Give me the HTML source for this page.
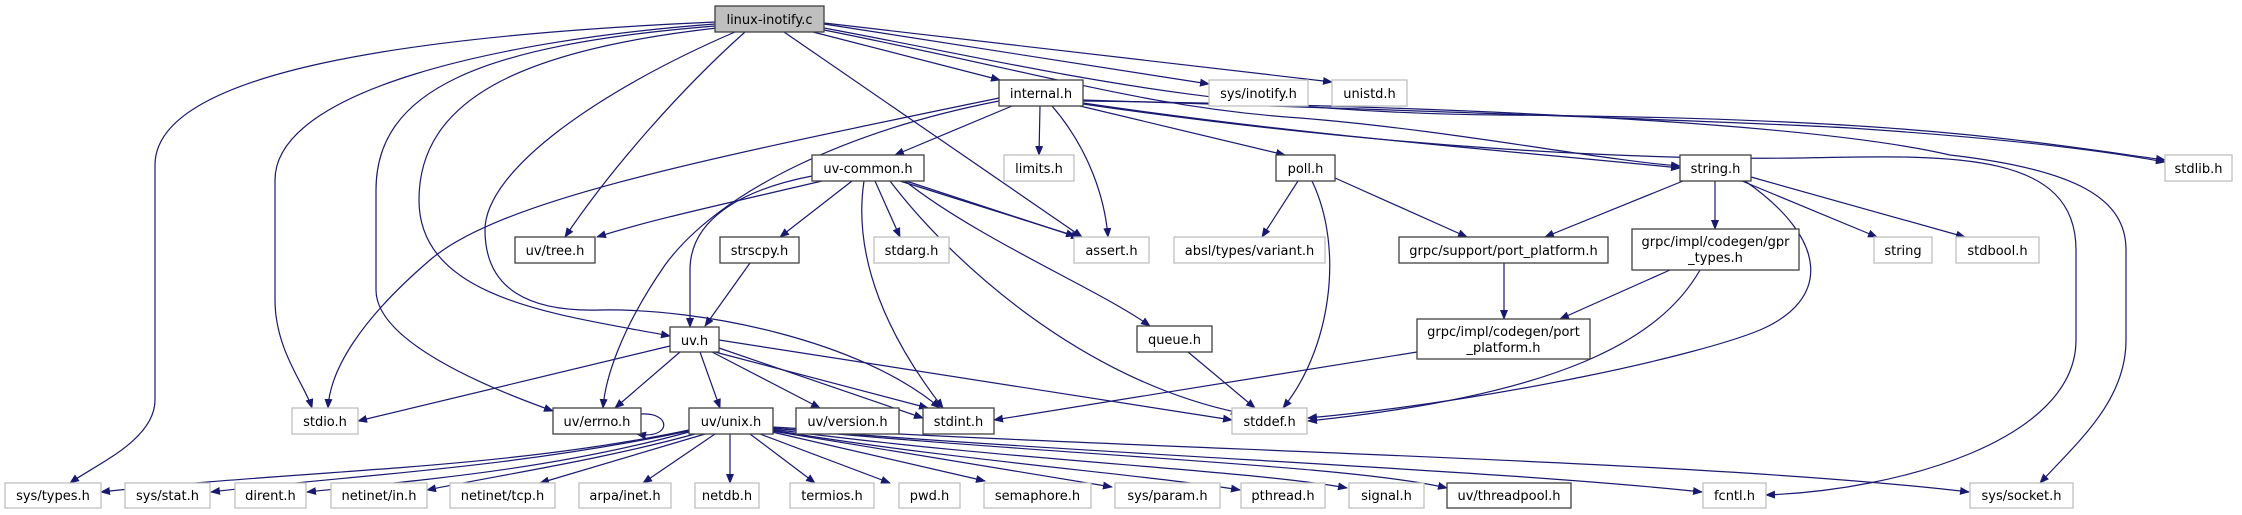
<!DOCTYPE html>
<html><head><meta charset="utf-8"><style>
html,body{margin:0;padding:0;background:#fff;}
svg{display:block;}
text{font-family:"DejaVu Sans","Liberation Sans",sans-serif;font-size:13px;fill:#000;}
.e{fill:none;stroke:#191970;stroke-width:1.2;}
.b{fill:#fff;stroke:#404040;stroke-width:1.3;}
.g{fill:#fff;stroke:#bfbfbf;stroke-width:1.3;}
</style></head><body>
<svg width="2242" height="515" viewBox="0 0 2242 515" xmlns="http://www.w3.org/2000/svg">
<defs><marker id="a" markerWidth="10" markerHeight="8" refX="9" refY="4" orient="auto" markerUnits="userSpaceOnUse"><path d="M0,0 L10,4 L0,8 z" fill="#191970"/></marker></defs>
<g class="e" marker-end="url(#a)">
<!-- linux-inotify.c edges -->
<path d="M715,22 C420,35 155,70 155,165 L155,400 C155,440 95,465 70,483"/>
<path d="M715,24 C500,40 275,90 275,180 L275,300 C275,350 305,385 312,408"/>
<path d="M715,26 C480,45 376,90 376,190 L376,290 C376,340 480,385 553,411"/>
<path d="M717,28 C520,50 419,100 419,200 C419,300 560,315 670,336"/>
<path d="M735,32 C600,90 485,170 485,230 C485,290 530,312 600,310 C700,308 860,340 940,408"/>
<path d="M745,32 C680,90 610,170 565,237"/>
<path d="M784,32 L1082,237"/>
<path d="M813,32 L1000,80"/>
<path d="M824,24 L1209,84"/>
<path d="M824,23 L1332,82"/>
<path d="M824,28 C1050,70 1200,112 1500,115 C1900,118 2020,140 2165,160"/>
<path d="M824,30 C1050,75 1150,108 1300,118 C1450,130 1600,160 1680,166"/>
<!-- internal.h edges -->
<path d="M999,98 C700,160 500,200 430,260 C360,320 330,370 328,408"/>
<path d="M999,101 C850,130 720,190 665,265 C620,330 605,380 603,408"/>
<path d="M1012,106 L895,155"/>
<path d="M1040,106 L1039,155"/>
<path d="M1052,106 C1090,150 1105,200 1108,237"/>
<path d="M1080,106 L1285,155"/>
<path d="M1083,103 C1300,135 1500,150 1680,168"/>
<path d="M1083,100 C1400,110 1700,120 1850,128 C2000,138 2100,150 2165,162"/>
<path d="M1083,104 C1400,150 1650,160 1800,158 C1950,155 2076,150 2076,250 L2076,340 C2076,440 1900,490 1766,495"/>
<path d="M1083,101 C1400,105 1800,120 1950,155 C2080,170 2126,200 2126,250 L2126,340 C2126,400 2080,440 2040,483"/>
<!-- uv-common -->
<path d="M822,181 C720,205 650,220 597,237"/>
<path d="M812,176 C740,190 690,220 690,270 L690,327"/>
<path d="M852,181 L780,237"/>
<path d="M875,181 L900,237"/>
<path d="M900,181 L1075,236"/>
<path d="M906,181 L1080,238"/>
<path d="M864,181 C852,260 890,340 943,408"/>
<path d="M890,181 C950,260 1080,380 1240,413"/>
<path d="M905,181 C980,240 1100,290 1150,326"/>
<path d="M750,263 L705,326"/>
<!-- poll -->
<path d="M1298,181 L1262,237"/>
<path d="M1335,178 L1467,237"/>
<path d="M1312,181 C1345,250 1330,350 1283,408"/>
<!-- string.h -->
<path d="M1683,181 L1545,237"/>
<path d="M1715,181 L1715,229"/>
<path d="M1742,181 L1877,237"/>
<path d="M1751,177 L1965,237"/>
<path d="M1745,181 C1830,240 1830,300 1760,330 C1700,355 1500,400 1308,418"/>
<!-- grpc -->
<path d="M1670,270 L1560,319"/>
<path d="M1700,270 C1660,340 1560,395 1308,421"/>
<path d="M1504,263 L1504,319"/>
<path d="M1417,352 L994,420"/>
<path d="M1188,352 L1255,408"/>
<!-- uv.h -->
<path d="M670,346 L358,421"/>
<path d="M680,352 L615,408"/>
<path d="M700,352 L720,408"/>
<path d="M712,352 L820,408"/>
<path d="M719,348 L923,418"/>
<path d="M715,352 L928,408"/>
<path d="M719,340 L1232,420"/>
<path d="M641,414 C672,412 672,440 637,434"/>
<!-- uv/unix.h -->
<path d="M689,430 C500,470 300,470 101,492"/>
<path d="M689,431 C500,470 350,475 211,492"/>
<path d="M689,432 C550,470 420,480 307,492"/>
<path d="M695,434 C600,460 500,475 427,490"/>
<path d="M705,434 L540,483"/>
<path d="M715,434 L643,483"/>
<path d="M730,434 L730,483"/>
<path d="M750,434 L815,483"/>
<path d="M760,434 L890,483"/>
<path d="M772,432 L985,481"/>
<path d="M772,431 L1112,487"/>
<path d="M772,430 C950,460 1150,475 1240,490"/>
<path d="M772,429 C1000,460 1250,470 1347,488"/>
<path d="M772,428 C1050,455 1350,465 1447,488"/>
<path d="M772,428 C1100,455 1500,470 1702,492"/>
<path d="M772,427 C1150,450 1700,460 1969,492"/>
</g>
<!-- nodes -->
<g>
<rect x="715" y="6" width="109" height="26" fill="#bfbfbf" stroke="#404040" stroke-width="1.3"/><text x="769.5" y="24" text-anchor="middle">linux-inotify.c</text>
<rect class="b" x="999" y="80" width="84" height="26"/><text x="1041" y="98" text-anchor="middle">internal.h</text>
<rect class="g" x="1209" y="80" width="99" height="26"/><text x="1258.5" y="98" text-anchor="middle">sys/inotify.h</text>
<rect class="g" x="1332" y="80" width="75" height="26"/><text x="1369.5" y="98" text-anchor="middle">unistd.h</text>
<rect class="b" x="812" y="155" width="112" height="26"/><text x="868" y="173" text-anchor="middle">uv-common.h</text>
<rect class="g" x="1004" y="155" width="70" height="26"/><text x="1039" y="173" text-anchor="middle">limits.h</text>
<rect class="b" x="1276" y="155" width="59" height="26"/><text x="1305.5" y="173" text-anchor="middle">poll.h</text>
<rect class="b" x="1680" y="155" width="71" height="26"/><text x="1715.5" y="173" text-anchor="middle">string.h</text>
<rect class="g" x="2165" y="155" width="67" height="26"/><text x="2198.5" y="173" text-anchor="middle">stdlib.h</text>
<rect class="b" x="515" y="237" width="80" height="26"/><text x="555" y="255" text-anchor="middle">uv/tree.h</text>
<rect class="b" x="720" y="237" width="79" height="26"/><text x="759.5" y="255" text-anchor="middle">strscpy.h</text>
<rect class="g" x="874" y="237" width="75" height="26"/><text x="911.5" y="255" text-anchor="middle">stdarg.h</text>
<rect class="g" x="1074" y="237" width="75" height="26"/><text x="1111.5" y="255" text-anchor="middle">assert.h</text>
<rect class="g" x="1174" y="237" width="151" height="26"/><text x="1249.5" y="255" text-anchor="middle">absl/types/variant.h</text>
<rect class="b" x="1399" y="237" width="209" height="26"/><text x="1503.5" y="255" text-anchor="middle">grpc/support/port_platform.h</text>
<rect class="b" x="1632" y="229" width="167" height="41"/><text x="1715.5" y="246" text-anchor="middle">grpc/impl/codegen/gpr</text><text x="1715.5" y="262" text-anchor="middle">_types.h</text>
<rect class="g" x="1874" y="237" width="58" height="26"/><text x="1903" y="255" text-anchor="middle">string</text>
<rect class="g" x="1956" y="237" width="83" height="26"/><text x="1997.5" y="255" text-anchor="middle">stdbool.h</text>
<rect class="b" x="670" y="327" width="49" height="25"/><text x="694.5" y="345" text-anchor="middle">uv.h</text>
<rect class="b" x="1137" y="326" width="75" height="26"/><text x="1174.5" y="344" text-anchor="middle">queue.h</text>
<rect class="b" x="1417" y="319" width="173" height="40"/><text x="1503.5" y="336" text-anchor="middle">grpc/impl/codegen/port</text><text x="1503.5" y="352" text-anchor="middle">_platform.h</text>
<rect class="g" x="292" y="408" width="66" height="26"/><text x="325" y="426" text-anchor="middle">stdio.h</text>
<rect class="b" x="553" y="408" width="88" height="26"/><text x="597" y="426" text-anchor="middle">uv/errno.h</text>
<rect class="b" x="689" y="408" width="84" height="26"/><text x="731" y="426" text-anchor="middle">uv/unix.h</text>
<rect class="b" x="796" y="408" width="103" height="26"/><text x="847.5" y="426" text-anchor="middle">uv/version.h</text>
<rect class="b" x="923" y="408" width="71" height="26"/><text x="958.5" y="426" text-anchor="middle">stdint.h</text>
<rect class="g" x="1232" y="408" width="75" height="26"/><text x="1269.5" y="426" text-anchor="middle">stddef.h</text>
<rect class="g" x="5" y="483" width="96" height="25"/><text x="53" y="500" text-anchor="middle">sys/types.h</text>
<rect class="g" x="125" y="483" width="85" height="25"/><text x="167.5" y="500" text-anchor="middle">sys/stat.h</text>
<rect class="g" x="235" y="483" width="71" height="25"/><text x="270.5" y="500" text-anchor="middle">dirent.h</text>
<rect class="g" x="331" y="483" width="96" height="25"/><text x="379" y="500" text-anchor="middle">netinet/in.h</text>
<rect class="g" x="450" y="483" width="105" height="25"/><text x="502.5" y="500" text-anchor="middle">netinet/tcp.h</text>
<rect class="g" x="579" y="483" width="92" height="25"/><text x="625" y="500" text-anchor="middle">arpa/inet.h</text>
<rect class="g" x="695" y="483" width="64" height="25"/><text x="727" y="500" text-anchor="middle">netdb.h</text>
<rect class="g" x="790" y="483" width="84" height="25"/><text x="832" y="500" text-anchor="middle">termios.h</text>
<rect class="g" x="899" y="483" width="61" height="25"/><text x="929.5" y="500" text-anchor="middle">pwd.h</text>
<rect class="g" x="984" y="483" width="107" height="25"/><text x="1037.5" y="500" text-anchor="middle">semaphore.h</text>
<rect class="g" x="1115" y="483" width="105" height="25"/><text x="1167.5" y="500" text-anchor="middle">sys/param.h</text>
<rect class="g" x="1241" y="483" width="84" height="25"/><text x="1283" y="500" text-anchor="middle">pthread.h</text>
<rect class="g" x="1349" y="483" width="75" height="25"/><text x="1386.5" y="500" text-anchor="middle">signal.h</text>
<rect class="b" x="1447" y="483" width="124" height="25"/><text x="1509" y="500" text-anchor="middle">uv/threadpool.h</text>
<rect class="g" x="1703" y="483" width="63" height="25"/><text x="1734.5" y="500" text-anchor="middle">fcntl.h</text>
<rect class="g" x="1970" y="483" width="103" height="25"/><text x="2021.5" y="500" text-anchor="middle">sys/socket.h</text>
</g>
</svg>
</body></html>
